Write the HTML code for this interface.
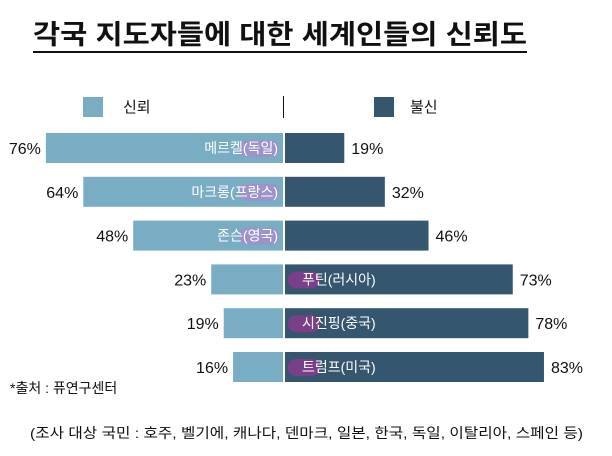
<!DOCTYPE html>
<html><head><meta charset="utf-8"><style>
body{margin:0;background:#fff;}
svg{display:block;font-family:"Liberation Sans","Noto Sans CJK KR",sans-serif;}
</style></head><body>
<svg id="c" width="612" height="456" viewBox="0 0 612 456">
<text x="33" y="44" font-size="27" font-weight="bold" fill="#111" textLength="494" lengthAdjust="spacingAndGlyphs">각국 지도자들에 대한 세계인들의 신뢰도</text>
<rect x="33" y="51" width="494" height="2" fill="#111"/>
<rect x="83" y="97" width="20" height="20" fill="#79adc4"/>
<text x="123" y="112" font-size="15" fill="#111">신뢰</text>
<rect x="283" y="96" width="1" height="22" fill="#111"/>
<rect x="374" y="97" width="20" height="20" fill="#34566e"/>
<text x="410" y="112" font-size="15" fill="#111">불신</text>
<g id="bars"></g>
<text x="10" y="393" font-size="14" fill="#111">*출처 :  퓨연구센터</text>
<text x="30" y="438" font-size="14" fill="#111" textLength="553" lengthAdjust="spacingAndGlyphs">(조사 대상 국민 :  호주, 벨기에, 캐나다, 덴마크, 일본, 한국, 독일, 이탈리아, 스페인 등)</text>
</svg>
<script>
const leaders=["메르켈(독일)","마크롱(프랑스)","존슨(영국)","푸틴(러시아)","시진핑(중국)","트럼프(미국)"];
const trust=[76,64,48,23,19,16];
const distrust=[19,32,46,73,78,83];
const cx=284, k=3.12, top0=133, pitch=43.8, bh=30;
const xL=v=>cx-1-v*k, xR=v=>cx+1+v*k;
const g=document.getElementById('bars');
const NS="http://www.w3.org/2000/svg";
function mk(t,a){const e=document.createElementNS(NS,t);for(const n in a)e.setAttribute(n,a[n]);g.appendChild(e);return e;}
leaders.forEach((name,i)=>{
  const y=top0+i*pitch;
  const l=mk('rect',{x:xL(trust[i]),y:y,width:trust[i]*k,height:bh,fill:'#79adc4'});
  
  
  const r=mk('rect',{x:cx+1,y:y,width:distrust[i]*k,height:bh,fill:'#34566e'});
  
  
  const tl=mk('text',{x:xL(trust[i])-5,y:y+21,'font-size':16,'text-anchor':'end',fill:'#111'});
  tl.textContent=trust[i]+'%';
  
  
  const tr=mk('text',{x:xR(distrust[i])+7,y:y+21,'font-size':16,fill:'#111'});
  tr.textContent=distrust[i]+'%';
  
  
  const left=i<3;
  const hl=mk('rect',{x:left?cx-45:cx+4,y:y+7,width:left?40:32,height:17,rx:8,fill:left?'#a58ccc':'#8c3a8e',opacity:0.8});
  
  
  const nt=mk('text',{x:left?cx-6:cx+18,y:y+20,'font-size':14,fill:'#fff','text-anchor':left?'end':'start'});
  nt.textContent=name;
  
  
});
</script>
</body></html>
